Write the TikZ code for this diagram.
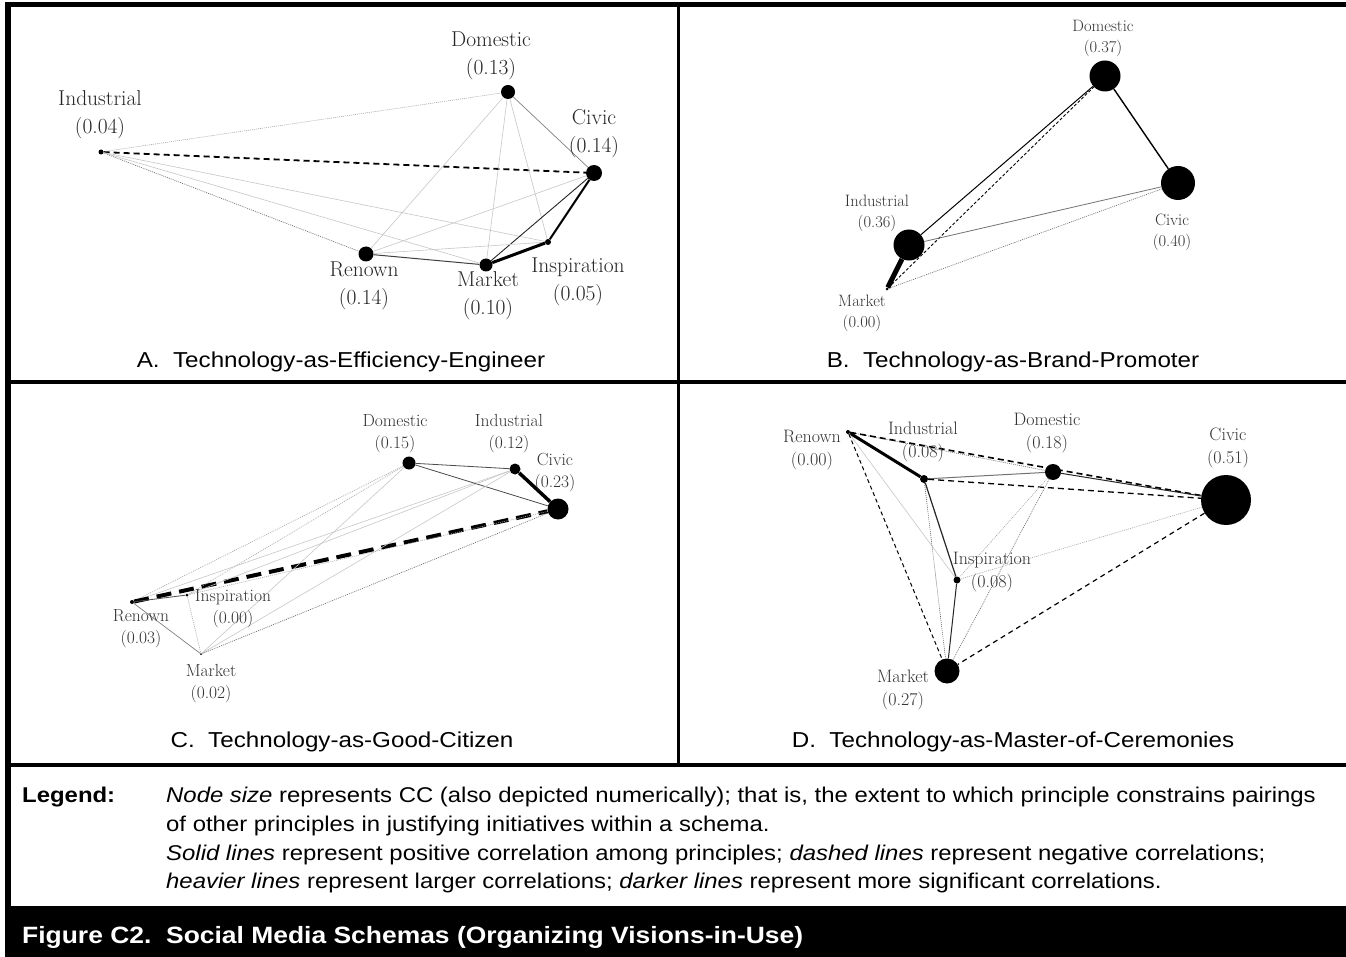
\documentclass[tikz,border=0pt]{standalone}
\usepackage{fontspec}
\newfontfamily\arialfont[FakeStretch=1.12]{Liberation Sans}
\begin{document}
\begin{tikzpicture}[x=1pt,y=-1pt,
  pdot/.style={circle, fill=black, inner sep=0pt, minimum size=#1},
  lblA/.style={align=center, inner sep=0pt, text=black!85, font=\fontsize{21.5}{28}\selectfont},
  lblB/.style={align=center, inner sep=0pt, text=black!80, font=\fontsize{16.5}{21}\selectfont},
  lblC/.style={align=center, inner sep=0pt, text=black!80, font=\fontsize{17.5}{22}\selectfont},
  lblD/.style={align=center, inner sep=0pt, text=black!80, font=\fontsize{18}{23}\selectfont},
  panelcap/.style={anchor=base, inner sep=0pt, font={\arialfont\fontsize{21.6}{25}\selectfont}},
  legtext/.style={anchor=base west, inner sep=0pt, font={\arialfont\fontsize{21.35}{25}\selectfont}},
  eLight/.style={draw=black!22, line width=0.6pt},
  eMid/.style={draw=black!50, line width=0.7pt},
  eDark/.style={draw=black!85, line width=0.9pt},
  eDotL/.style={draw=black!35, line width=0.6pt, dash pattern=on 1pt off 1pt},
  eDotD/.style={draw=black!60, line width=0.6pt, dash pattern=on 1pt off 1pt},
  eDash/.style={draw=black, dash pattern=on 5pt off 3pt}
]
\useasboundingbox (0,0) rectangle (1346,957);
% frame
\fill[white] (0,0) rectangle (1346,957);
\fill[black] (5,2) rectangle (1346,957);
\fill[white] (11,7) rectangle (677,380);
\fill[white] (680,7) rectangle (1346,380);
\fill[white] (11,384) rectangle (677,763);
\fill[white] (680,384) rectangle (1346,763);
\fill[white] (11,767) rectangle (1346,906);

% ---------- Panel A ----------
\node[pdot=5pt]  (aInd) at (101,152) {};
\node[pdot=14pt] (aDom) at (508,92) {};
\node[pdot=16pt] (aCiv) at (594,173) {};
\node[pdot=15pt] (aRen) at (366,254) {};
\node[pdot=13pt] (aMkt) at (486,265) {};
\node[pdot=6pt]  (aIns) at (548,242) {};
\draw[eDotL] (aInd) -- (aDom);
\draw[eDash, line width=1.8pt, dash pattern=on 6pt off 4pt] (aInd) -- (aCiv);
\draw[eDotD] (aInd) -- (aRen);
\draw[eLight] (aInd) -- (aMkt);
\draw[eLight] (aInd) -- (aIns);
\draw[eMid] (aDom) -- (aCiv);
\draw[eLight] (aDom) -- (aRen);
\draw[eLight] (aDom) -- (aMkt);
\draw[eLight] (aDom) -- (aIns);
\draw[eLight] (aCiv) -- (aRen);
\draw[eDark] (aCiv) -- (aMkt);
\draw[draw=black, line width=2pt] (aCiv) -- (aIns);
\draw[draw=black!75, line width=1pt] (aRen) -- (aMkt);
\draw[eLight] (aRen) -- (aIns);
\draw[draw=black, line width=3pt] (aMkt) -- (aIns);
\node[lblA] (aIndL) at (100,115) {Industrial\\(0.04)};
\node[lblA] (aDomL) at (491,56) {Domestic\\(0.13)};
\node[lblA] (aCivL) at (594,134) {Civic\\(0.14)};
\node[lblA] (aRenL) at (364,286) {Renown\\(0.14)};
\node[lblA] (aMktL) at (488,296) {Market\\(0.10)};
\node[lblA] (aInsL) at (578,282) {Inspiration\\(0.05)};
\node[panelcap] (capA) at (341,367) {A.~~Technology-as-Efficiency-Engineer};

% ---------- Panel B ----------
\node[pdot=31pt] (bDom) at (1105,76) {};
\node[pdot=34pt] (bCiv) at (1178,183) {};
\node[pdot=31pt] (bInd) at (909,245) {};
\node[pdot=3pt]  (bMkt) at (887,289) {};
\draw[draw=black, line width=1pt] (bInd) -- (bDom);
\draw[eDash, line width=0.9pt, dash pattern=on 3pt off 2pt] (bMkt) -- (bDom);
\draw[draw=black, line width=1.4pt] (bDom) -- (bCiv);
\draw[draw=black!55, line width=0.8pt] (bInd) -- (bCiv);
\draw[eDotD] (bMkt) -- (bCiv);
\draw[draw=black, line width=5pt] (bMkt) -- (bInd);
\node[lblB] (bDomL) at (1103,38) {Domestic\\(0.37)};
\node[lblB] (bIndL) at (877,213) {Industrial\\(0.36)};
\node[lblB] (bCivL) at (1172,232) {Civic\\(0.40)};
\node[lblB] (bMktL) at (862,313) {Market\\(0.00)};
\node[panelcap] (capB) at (1013,367) {B.~~Technology-as-Brand-Promoter};

% ---------- Panel C ----------
\node[pdot=13pt] (cDom) at (409,463) {};
\node[pdot=11pt] (cInd) at (515,469) {};
\node[pdot=21pt] (cCiv) at (558,509) {};
\node[pdot=4pt]  (cRen) at (132,602) {};
\node[pdot=3pt]  (cIns) at (187,595) {};
\node[pdot=2pt]  (cMkt) at (201,654) {};
\draw[eDotL] (cRen) -- (cDom);
\draw[eLight] (cRen) -- (cInd);
\draw[eDash, line width=4pt, dash pattern=on 15pt off 8pt] (cRen) -- (cCiv);
\draw[draw=black!70, line width=0.8pt] (cRen) -- (cIns);
\draw[eMid] (cRen) -- (cMkt);
\draw[draw=black!70, line width=0.8pt] (cDom) -- (cInd);
\draw[draw=black!70, line width=0.8pt] (cDom) -- (cCiv);
\draw[eDotL] (cDom) -- (cIns);
\draw[eLight] (cDom) -- (cMkt);
\draw[draw=black, line width=3.5pt] (cInd) -- (cCiv);
\draw[eLight] (cInd) -- (cIns);
\draw[eLight] (cInd) -- (cMkt);
\draw[eDotL] (cCiv) -- (cIns);
\draw[eDotD] (cCiv) -- (cMkt);
\draw[eDotL] (cIns) -- (cMkt);
\node[lblC] (cDomL) at (395,434) {Domestic\\(0.15)};
\node[lblC] (cIndL) at (509,434) {Industrial\\(0.12)};
\node[lblC] (cCivL) at (555,473) {Civic\\(0.23)};
\node[lblC] (cRenL) at (141,629) {Renown\\(0.03)};
\node[lblC] (cInsL) at (233,609) {Inspiration\\(0.00)};
\node[lblC] (cMktL) at (211,684) {Market\\(0.02)};
\node[panelcap] (capC) at (342,747) {C.~~Technology-as-Good-Citizen};

% ---------- Panel D ----------
\node[pdot=4pt]  (dRen) at (848,432) {};
\node[pdot=8pt]  (dInd) at (924,479) {};
\node[pdot=16pt] (dDom) at (1053,472) {};
\node[pdot=50pt] (dCiv) at (1226,500) {};
\node[pdot=7pt]  (dIns) at (957,580) {};
\node[pdot=25pt] (dMkt) at (947,671) {};
\draw[draw=black, line width=3pt] (dRen) -- (dInd);
\draw[eDotD] (dRen) -- (dDom);
\draw[eDash, line width=1.6pt, dash pattern=on 6pt off 4pt] (dRen) -- (dCiv);
\draw[eLight] (dRen) -- (dIns);
\draw[eDash, line width=1pt, dash pattern=on 4pt off 3pt] (dRen) -- (dMkt);
\draw[draw=black!55, line width=1pt] (dInd) -- (dDom);
\draw[eDash, line width=1.3pt, dash pattern=on 6pt off 4pt] (dInd) -- (dCiv);
\draw[draw=black!85, line width=1.2pt] (dInd) -- (dIns);
\draw[eDotD] (dInd) -- (dMkt);
\draw[draw=black!85, line width=1pt] (dDom) -- (dCiv);
\draw[eDotL] (dDom) -- (dIns);
\draw[eDotD] (dDom) -- (dMkt);
\draw[eDotL] (dCiv) -- (dIns);
\draw[eDash, line width=1.2pt, dash pattern=on 5pt off 4pt] (dCiv) -- (dMkt);
\draw[draw=black!85, line width=1pt] (dIns) -- (dMkt);
\node[lblD] (dRenL) at (812,450) {Renown\\(0.00)};
\node[lblD] (dIndL) at (923,442) {Industrial\\(0.08)};
\node[lblD] (dDomL) at (1047,433) {Domestic\\(0.18)};
\node[lblD] (dCivL) at (1228,448) {Civic\\(0.51)};
\node[lblD] (dInsL) at (992,572) {Inspiration\\(0.08)};
\node[lblD] (dMktL) at (903,690) {Market\\(0.27)};
\node[panelcap] (capD) at (1013,747) {D.~~Technology-as-Master-of-Ceremonies};

% ---------- Legend ----------
\node[legtext] (legH) at (22,802) {\bfseries Legend:};
\node[legtext] (leg1) at (166,802) {{\itshape Node size} represents CC (also depicted numerically); that is, the extent to which principle constrains pairings};
\node[legtext] (leg2) at (166,831) {of other principles in justifying initiatives within a schema.};
\node[legtext] (leg3) at (166,860) {{\itshape Solid lines} represent positive correlation among principles; {\itshape dashed lines} represent negative correlations;};
\node[legtext] (leg4) at (166,888) {{\itshape heavier lines} represent larger correlations; {\itshape darker lines} represent more significant correlations.};

% ---------- Title ----------
\node[anchor=base west, inner sep=0pt, text=white, font={\arialfont\bfseries\fontsize{23.6}{28}\selectfont}] (title) at (22,943) {Figure C2.~~Social Media Schemas (Organizing Visions-in-Use)};
\end{tikzpicture}
\end{document}
